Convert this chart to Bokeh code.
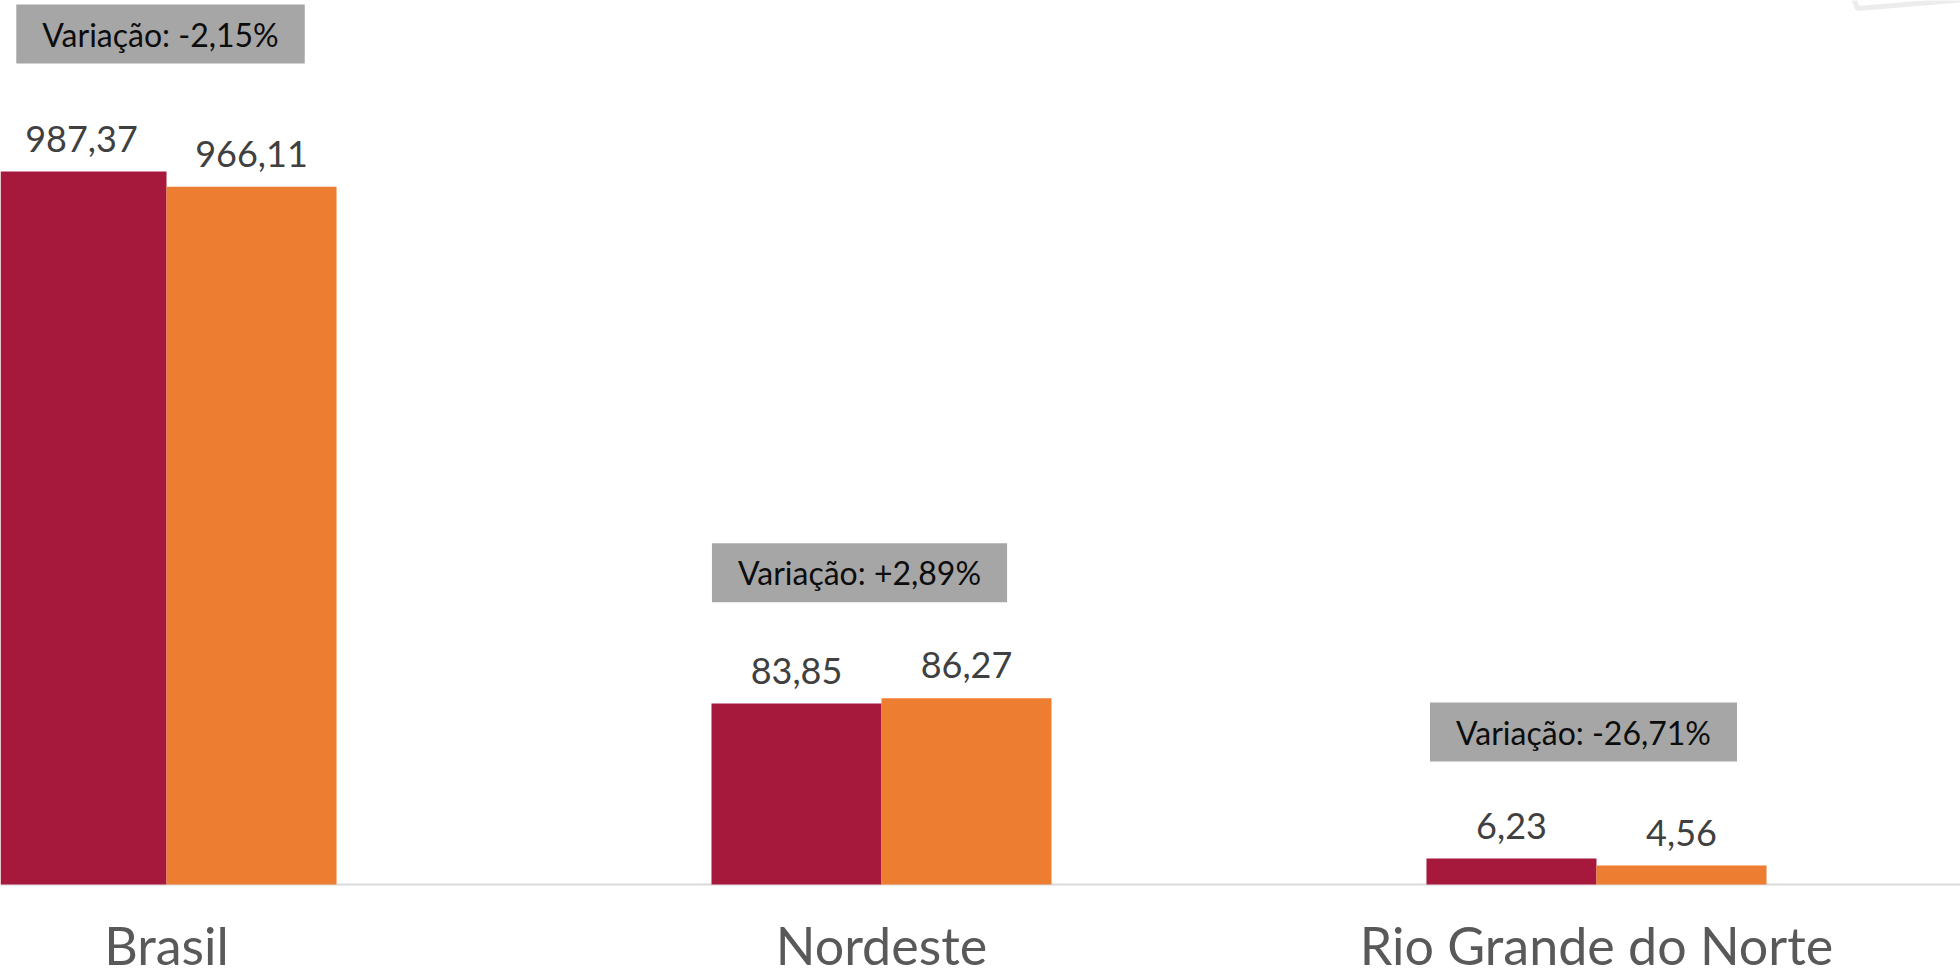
from bokeh.plotting import figure
from bokeh.models import (ColumnDataSource, Range1d, LabelSet, Label, Span,
                          PolyAnnotation)
from bokeh.core.properties import value
from bokeh.embed import file_html
from bokeh.resources import INLINE

# ---- data ----
categories = ["Brasil", "Nordeste", "Rio Grande do Norte"]
series_2019 = [987.37, 83.85, 6.23]   # crimson bars
series_2020 = [966.11, 86.27, 4.56]   # orange bars
value_labels_2019 = ["987,37", "83,85", "6,23"]
value_labels_2020 = ["966,11", "86,27", "4,56"]
variation_labels = ["Variação: -2,15%", "Variação: +2,89%", "Variação: -26,71%"]
# each group is drawn on its own vertical scale (as in the original slide)
group_range_starts = [-126.0, -42.2, -21.8]
group_range_ends = [1224.2, 409.7, 212.0]

CRIMSON = "#A6193C"
ORANGE = "#ED7D31"
FONT = "Lato"

p = figure(width=1960, height=975, output_backend="svg", toolbar_location=None,
           x_range=Range1d(-0.2322, 2.5091),
           y_range=Range1d(group_range_starts[0], group_range_ends[0]),
           min_border_left=0, min_border_right=0, min_border_top=0, min_border_bottom=0)
p.background_fill_color = "white"
p.border_fill_color = "white"
p.outline_line_color = None
p.xgrid.visible = False
p.ygrid.visible = False
p.xaxis.visible = False
p.yaxis.visible = False

range_names = ["default", "ne", "rn"]
for i in (1, 2):
    p.extra_y_ranges[range_names[i]] = Range1d(group_range_starts[i], group_range_ends[i])

# baseline
p.add_layout(Span(location=0, dimension="width", line_color="#D9D9D9",
                  line_width=2, level="underlay"))

bar_w = 0.2378
half = bar_w / 2
box_dx = [-6, -22, -13]
box_dy = [108, 96, 97]

for i, cat in enumerate(categories):
    src = ColumnDataSource(dict(
        x=[i - half, i + half],
        top=[series_2019[i], series_2020[i]],
        color=[CRIMSON, ORANGE],
        label=[value_labels_2019[i], value_labels_2020[i]],
    ))
    p.vbar(x="x", top="top", width=bar_w, fill_color="color", line_color=None,
           source=src, y_range_name=range_names[i])
    p.add_layout(LabelSet(x="x", y="top", text="label", source=src,
                          y_range_name=range_names[i], text_align="center",
                          text_baseline="alphabetic", y_offset=20,
                          text_font=value(FONT), text_font_size=value("36px"),
                          text_color=value("#404040")))
    p.add_layout(Label(x=i, y=max(series_2019[i], series_2020[i]),
                       y_range_name=range_names[i], x_offset=box_dx[i], y_offset=box_dy[i],
                       text=variation_labels[i], text_align="center",
                       text_baseline="bottom", text_font=FONT,
                       text_font_size="32px", text_color="#0D0D0D",
                       background_fill_color="#A6A6A6", padding=(26, 10)))

# category labels under the baseline
cat_src = ColumnDataSource(dict(x=list(range(len(categories))), y=[0] * len(categories),
                                name=categories))
p.add_layout(LabelSet(x="x", y="y", text="name", source=cat_src, text_align="center",
                      text_baseline="alphabetic", y_offset=-80,
                      text_font=value(FONT), text_font_size=value("52px"),
                      text_color=value("#595959")))

# decorative grey frame corner (top right of the slide)
p.add_layout(PolyAnnotation(xs=[1849, 1857, 1966], ys=[-12, 8, -1],
                            xs_units="canvas", ys_units="canvas",
                            fill_alpha=0, line_color="#BFBFBF", line_width=5))

open("out.html", "w").write(file_html(p, INLINE))
